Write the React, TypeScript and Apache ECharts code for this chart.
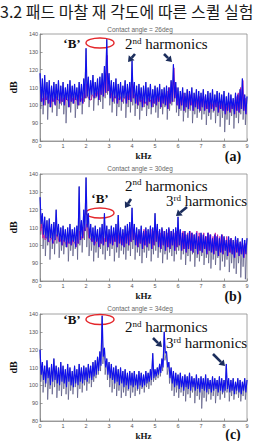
import React, { useEffect, useRef } from "react";
import * as echarts from "echarts";

// ---- Data (dB vs kHz); index i -> f = i/10 kHz ----
const xTicks = [0, 1, 2, 3, 4, 5, 6, 7, 8, 9];
const yTicks = [80, 90, 100, 110, 120, 130, 140];
const panelTitles = ["Contact angle = 26deg", "Contact angle = 30deg", "Contact angle = 34deg"];
const panelTags = ["(a)", "(b)", "(c)"];

// Panel (a) 26deg
const aHi = [118,115,117,113,114,111,113,112,114,111, 113,110,112,114,111,112,110,113,112,115,
  132,116,114,117,113,115,116,118,122,137, 118,114,113,115,112,113,111,114,112,113,
  125,113,111,112,110,111,113,110,112,109, 111,110,112,109,110,111,110,114,123,113,
  110,108,110,107,109,108,110,107,109,108, 107,109,106,108,107,109,106,108,107,106,
  108,105,107,106,104,107,106,109,115,106,105];
const aLo = [102,100,103,101,99,102,100,103,101,102, 100,103,99,102,101,103,100,102,101,104,
  105,103,106,104,105,103,106,105,107,108, 104,102,104,101,103,102,104,101,103,102,
  104,101,100,102,99,101,100,102,99,101, 100,102,99,101,100,98,101,102,104,100,
  98,100,97,99,98,100,97,99,98,97, 99,97,98,96,98,97,99,96,98,97,
  95,97,96,98,95,97,96,98,97,95,96];
const aGray = [98,95,100,92,99,96,101,94,98,100, 95,90,99,96,101,93,98,100,95,102,
  104,99,103,97,104,100,102,98,104,106, 100,96,101,94,99,97,101,93,99,96,
  100,94,98,92,97,99,94,98,95,99, 96,93,98,95,99,92,97,100,102,96,
  94,97,91,96,93,97,90,95,93,96, 92,95,89,94,92,96,90,94,88,93,
  85,92,89,94,87,93,90,95,92,89,93];
const aMag = [106,104,107,105,103,106,104,105,103,106, 104,105,103,106,104,105,103,106,104,107,
  112,104,103,105,107,108,110,113,118,128, 112,107,105,106,104,105,103,105,106,108,
  112,106,104,105,103,104,102,104,103,105, 104,106,105,107,106,108,110,113,121,110,
  106,104,107,105,108,106,104,106,103,105, 103,105,102,104,103,101,103,102,100,102,
  101,99,102,100,103,105,107,110,114,104,101];

// Panel (b) 30deg
const bHi = [127,118,116,114,115,112,113,120,112,110, 111,109,110,112,109,110,111,133,114,120,
  138,118,112,110,111,109,110,112,118,111, 109,111,110,112,117,110,109,111,112,113,
  121,112,110,109,111,108,110,109,111,110, 118,112,109,110,108,109,110,108,109,110,
  116,109,107,108,106,108,107,106,107,105, 107,106,105,107,106,104,106,105,104,106,
  105,103,105,104,103,105,104,102,104,103,104];
const bLo = [112,106,104,102,104,101,103,105,102,100, 102,99,101,100,102,99,101,103,104,108,
  110,104,102,100,102,99,101,100,102,99, 101,100,102,99,101,100,99,101,100,102,
  103,100,99,101,98,100,99,101,98,100, 102,99,98,100,97,99,98,100,97,99,
  100,97,98,96,98,97,96,98,95,97, 96,98,95,97,96,95,97,94,96,95,
  97,94,96,95,93,96,94,95,93,95,94];
const bGray = [106,98,94,100,92,98,95,101,93,97, 95,99,91,97,94,98,92,100,96,103,
  99,94,97,91,96,93,98,95,92,97, 94,98,91,96,93,97,95,92,97,94,
  98,92,96,94,90,96,93,97,91,95, 97,93,96,90,95,92,96,94,91,95,
  97,92,95,89,94,91,95,88,93,91, 94,89,93,90,87,92,89,93,86,91,
  88,92,85,90,87,84,90,82,88,81,86];
const bMag = [108,104,103,105,102,104,103,106,102,104, 103,101,104,102,103,101,104,108,105,110,
  112,104,103,105,102,104,103,105,104,106, 104,106,105,107,106,105,107,106,108,107,
  110,107,106,108,107,109,108,107,109,108, 110,108,107,109,108,107,109,108,107,108,
  109,107,108,106,107,108,107,106,108,107, 106,107,105,107,106,105,107,106,105,106,
  104,105,103,104,102,103,101,102,100,101,100];

// Panel (c) 34deg
const cHi = [120,113,111,114,110,112,115,111,110,113, 111,109,112,110,108,111,109,112,110,111,
  110,112,111,113,114,116,119,139,121,115, 113,112,110,111,109,110,108,109,107,108,
  107,108,106,108,107,106,108,107,109,118, 109,110,112,115,130,119,113,110,108,107,
  106,107,105,106,105,107,105,104,106,104, 105,104,106,104,103,105,104,103,105,104,
  103,112,104,103,104,102,104,103,102,104,103];
const cLo = [106,103,101,104,100,102,103,101,100,102, 101,99,102,100,99,101,100,102,101,103,
  102,104,103,105,106,108,111,116,110,106, 104,103,101,102,100,101,99,100,98,100,
  99,100,98,100,99,100,101,102,103,104, 105,106,107,110,118,110,104,101,99,100,
  98,99,97,99,98,97,99,97,98,96, 98,97,96,98,96,97,98,96,97,96,
  97,98,96,97,95,97,96,95,97,96,97];
const cGray = [102,96,99,92,98,95,99,93,97,94, 98,95,92,97,95,99,93,98,96,100,
  97,101,99,102,104,106,108,112,106,103, 99,96,98,94,97,93,96,94,97,93,
  96,94,97,95,98,96,99,98,100,102, 103,104,105,108,114,106,101,97,94,96,
  93,96,94,91,95,93,96,90,94,92, 87,93,91,95,92,94,90,94,92,95,
  93,96,91,94,92,95,93,91,94,92,95];

const panels = [
  { hi: aHi, lo: aLo, gray: aGray, mag: aMag },
  { hi: bHi, lo: bLo, gray: bGray, mag: bMag },
  { hi: cHi, lo: cLo, gray: cGray, mag: null as number[] | null },
];

const GRID_TOPS = [34, 174, 314];
const GRID_LEFT = 32;
const GRID_W = 215;
const GRID_H = 107;

// alternate between two value lists (upper / lower excursions of the spectrum)
function zig(up: number[], down: number[], o1: number, o2: number) {
  const out: number[][] = [];
  for (let i = 0; i < up.length; i++) {
    const x1 = i / 10 + o1;
    if (x1 <= 9) out.push([x1, up[i]]);
    const x2 = i / 10 + o2;
    if (x2 <= 9) out.push([x2, down[i]]);
  }
  return out;
}

function arrow(x1: number, y1: number, x2: number, y2: number) {
  const dx = x2 - x1, dy = y2 - y1;
  const L = Math.sqrt(dx * dx + dy * dy);
  const ux = dx / L, uy = dy / L;
  const nx = -uy, ny = ux;
  const hl = 5.5, hw = 3.8;
  const bx = x2 - ux * hl, by = y2 - uy * hl;
  const color = "#1b2d5c";
  return [
    { type: "line", shape: { x1, y1, x2: bx, y2: by }, style: { stroke: color, lineWidth: 2.6 } },
    {
      type: "polygon",
      shape: { points: [[x2, y2], [bx + nx * hw, by + ny * hw], [bx - nx * hw, by - ny * hw]] },
      style: { fill: color },
    },
  ];
}

const serif = "Liberation Serif";

function txt(x: number, y: number, text: string, fontSize: number, extra: any = {}) {
  return {
    type: "text",
    x,
    y,
    style: {
      text,
      fontSize,
      lineHeight: Math.min(fontSize, 11),
      fontFamily: serif,
      fill: "#111",
      textAlign: "left",
      textVerticalAlign: "middle",
      ...extra,
    },
  };
}

function harmonics(x: number, y: number, ord: string) {
  const supW = ord === "2nd" ? 9 : 7.5;
  return [
    txt(x, y, ord[0], 15),
    txt(x + 7.6, y - 3.2, ord.slice(1), 9, { lineHeight: 7 }),
    txt(x + 7.6 + supW + 3.6, y, "harmonics", 15),
  ];
}
function bLabel(x: number, y: number) {
  return txt(x, y, "‘B’", 13, { fontWeight: "bold", textAlign: "center" });
}
function ring(cx: number, cy: number) {
  return {
    type: "ellipse",
    shape: { cx, cy, rx: 14, ry: 5 },
    style: { fill: "none", stroke: "#e4262a", lineWidth: 1.4 },
  };
}

export default function App() {
  const ref = useRef<HTMLDivElement>(null);
  useEffect(() => {
    if (!ref.current) return;
    const chart = echarts.init(ref.current, null, { renderer: "svg" });

    const grids = GRID_TOPS.map((t) => ({
      left: GRID_LEFT,
      top: t,
      width: GRID_W,
      height: GRID_H,
      show: true,
      borderColor: "#8a8a8a",
      borderWidth: 0.8,
      backgroundColor: "#fff",
    }));
    const xAxes = GRID_TOPS.map((_, k) => ({
      type: "value",
      gridIndex: k,
      min: xTicks[0],
      max: xTicks[xTicks.length - 1],
      interval: 1,
      name: "kHz",
      nameLocation: "middle",
      nameGap: 10,
      nameTextStyle: { fontFamily: serif, fontWeight: "bold", fontSize: 9, color: "#111" },
      axisLine: { lineStyle: { color: "#8a8a8a", width: 0.8 } },
      axisTick: { inside: true, length: 2.5, lineStyle: { color: "#777", width: 0.7 } },
      axisLabel: { fontSize: 5.5, color: "#555", margin: 2, fontFamily: "Liberation Sans" },
      splitLine: { show: false },
    }));
    const yAxes = GRID_TOPS.map((_, k) => ({
      type: "value",
      gridIndex: k,
      min: yTicks[0],
      max: yTicks[yTicks.length - 1],
      interval: 10,
      name: "dB",
      nameLocation: "middle",
      nameRotate: 90,
      nameGap: 16,
      nameTextStyle: { fontFamily: serif, fontWeight: "bold", fontSize: 10, color: "#111" },
      axisLine: { lineStyle: { color: "#8a8a8a", width: 0.8 } },
      axisTick: { inside: true, length: 2.5, lineStyle: { color: "#777", width: 0.7 } },
      axisLabel: { fontSize: 5.5, color: "#555", margin: 2, fontFamily: "Liberation Sans" },
      splitLine: { show: false },
    }));

    const series: any[] = [];
    panels.forEach((p, k) => {
      series.push({
        type: "line",
        xAxisIndex: k,
        yAxisIndex: k,
        data: zig(p.hi, p.gray, 0.0, 0.03),
        showSymbol: false,
        lineStyle: { color: "#55557f", width: 0.7 },
        silent: true,
      });
      if (p.mag) {
        series.push({
          type: "line",
          xAxisIndex: k,
          yAxisIndex: k,
          data: zig(p.mag, p.lo, 0.02, 0.07),
          showSymbol: false,
          lineStyle: { color: "#c2189e", width: 0.9 },
          silent: true,
        });
      }
      series.push({
        type: "line",
        xAxisIndex: k,
        yAxisIndex: k,
        data: zig(p.hi, p.lo, 0.0, 0.05),
        showSymbol: false,
        lineStyle: { color: "#1010ec", width: 1.1 },
        silent: true,
      });
    });

    const titleY = [29, 168.5, 308];
    const tagY = [156, 296, 434];
    const graphic: any[] = [
      {
        type: "text",
        x: 0,
        y: 11,
        style: {
          text: "3.2 패드 마찰 재 각도에 따른 스퀼 실험",
          fontSize: 16,
          fontFamily: "Noto Sans CJK KR",
          fill: "#1a1a1a",
          textVerticalAlign: "middle",
        },
      },
    ];
    panelTitles.forEach((t, k) => {
      graphic.push({
        type: "text",
        x: 140,
        y: titleY[k],
        style: {
          text: t,
          fontSize: 6.5,
          fontFamily: "Liberation Sans",
          fill: "#666",
          textAlign: "center",
          textVerticalAlign: "middle",
        },
      });
      graphic.push(txt(233, tagY[k], panelTags[k], 14, { fontWeight: "bold", textAlign: "center", lineHeight: 12 }));
    });
    // annotations panel (a)
    graphic.push(bLabel(72, 43), ring(100, 43), ...harmonics(125, 44, "2nd"));
    graphic.push(...arrow(135, 54, 128, 62), ...arrow(164, 54, 172, 62));
    // panel (b)
    graphic.push(bLabel(100, 198), ring(100, 213), ...harmonics(125, 185.5, "2nd"), ...harmonics(166, 201, "3rd"));
    graphic.push(...arrow(131, 199, 125, 208), ...arrow(187, 207, 176, 216));
    // panel (c)
    graphic.push(bLabel(72, 319), ring(100, 319.5), ...harmonics(125, 327, "2nd"), ...harmonics(166, 343, "3rd"));
    graphic.push(...arrow(153, 338, 162, 347), ...arrow(213, 354, 225, 366));

    chart.setOption({
      animation: false,
      backgroundColor: "#fff",
      grid: grids,
      xAxis: xAxes,
      yAxis: yAxes,
      series,
      graphic,
    });
    return () => chart.dispose();
  }, []);
  return (
    <div
      ref={ref}
      style={{ position: "absolute", left: 0, top: 0, width: 253, height: 441 }}
    />
  );
}
